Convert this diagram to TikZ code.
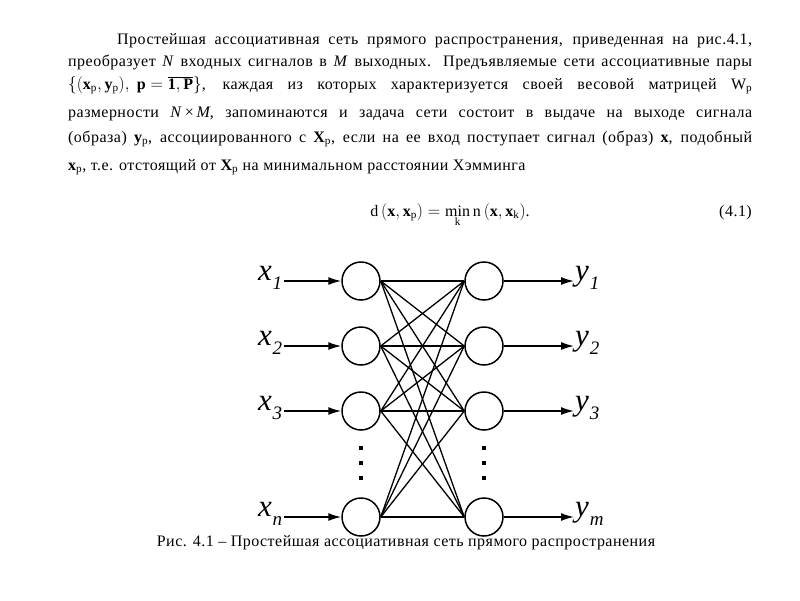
\documentclass[tikz,border=0pt]{standalone}
\usepackage{fontspec}
\setmainfont[LetterSpace=3]{Liberation Serif}
\usetikzlibrary{arrows.meta}

\newcommand{\sig}[2]{\textit{#1}\raisebox{-9pt}{\fontsize{19}{19}\selectfont\textit{#2}}}

\begin{document}
\begin{tikzpicture}[x=1pt,y=-1pt,
  neuron/.style={draw,circle,line width=1.5pt,minimum size=38pt,inner sep=0pt},
  link/.style={line width=1.3pt},
  signal/.style={line width=1.5pt,-{Latex[length=13pt,width=8pt]}},
  dotsq/.style={fill,minimum size=4.5pt,inner sep=0pt},
  lab/.style={inner sep=1pt,font=\fontsize{31}{31}\selectfont},
  txt/.style={anchor=base west,inner sep=0pt,font=\fontsize{16}{18}\selectfont}]
\useasboundingbox (0,0) rectangle (800,600);
% text above the figure
\node[txt] (l1) at (117,44) {\makebox[635pt][s]{Простейшая ассоциативная сеть прямого распространения, приведенная на рис.4.1,}};
\node[txt] (l2) at (68,66) {\makebox[684pt][s]{преобразует \textit{N} входных сигналов в \textit{M} выходных. Предъявляемые сети ассоциативные пары}};
\node[txt] (l3) at (68,89) {\makebox[684pt][s]{\mbox{$\Bigl\{\Bigl(\mathbf{x}_{\mathrm p},\mathbf{y}_{\mathrm p}\Bigr),\ \mathbf{p}=\overline{\mathbf{1},\mathbf{P}}\Bigr\}$}, каждая из которых характеризуется своей весовой матрицей \mbox{$\mathrm{W}_{\mathrm p}$}}};
\node[txt] (l4) at (68,117) {\makebox[684pt][s]{размерности \textit{N}\,×\,\textit{M}, запоминаются и задача сети состоит в выдаче на выходе сигнала}};
\node[txt] (l5) at (68,142) {\makebox[684pt][s]{(образа) \mbox{$\mathbf{y}_{\mathrm p}$}, ассоциированного с \mbox{$\mathbf{X}_{\mathrm p}$}, если на ее вход поступает сигнал (образ) \mbox{$\mathbf{x}$}, подобный}};
\node[txt] (l6) at (68,170) {$\mathbf{x}_{\mathrm p}$, т.е. отстоящий от $\mathbf{X}_{\mathrm p}$ на минимальном расстоянии Хэмминга};
\node[txt,anchor=base] (f1) at (450,216) {$\mathrm{d}\left(\mathbf{x},\mathbf{x}_{\mathrm p}\right)=\min\limits_{\mathrm k}\mathrm{n}\left(\mathbf{x},\mathbf{x}_{\mathrm k}\right)$.};
\node[txt,anchor=base east] (f1num) at (752,216) {(4.1)};
% the network
\foreach \i/\yy in {1/281,2/346,3/411,4/517}
{
	\node[neuron] (in\i) at (361,\yy) {};
	\node[neuron] (out\i) at (484,\yy) {};
}
\foreach \i in {1,...,4}
	\foreach \j in {1,...,4}
		\draw[link] (in\i.east) -- (out\j.west);
\foreach \k/\yy in {1/448,2/463,3/478}
{
	\node[dotsq] (dl\k) at (361,\yy) {};
	\node[dotsq] (dr\k) at (484,\yy) {};
}
\foreach \i/\s/\t/\yy in {1/1/1/281,2/2/2/346,3/3/3/411,4/n/m/517}
{
	\node[lab,anchor=east] (x\i) at (284,\yy-3) {\sig{x}{\s}};
	\draw[signal] (x\i.east |- in\i.west) -- (in\i.west);
	\node[lab,anchor=west] (y\i) at (574,\yy-3) {\sig{y}{\t}};
	\draw[signal] (out\i.east) -- (y\i.west |- out\i.east);
}
\node[txt,anchor=base] (cap) at (406,546) {Рис. 4.1 – Простейшая ассоциативная сеть прямого распространения};
\end{tikzpicture}
\end{document}
